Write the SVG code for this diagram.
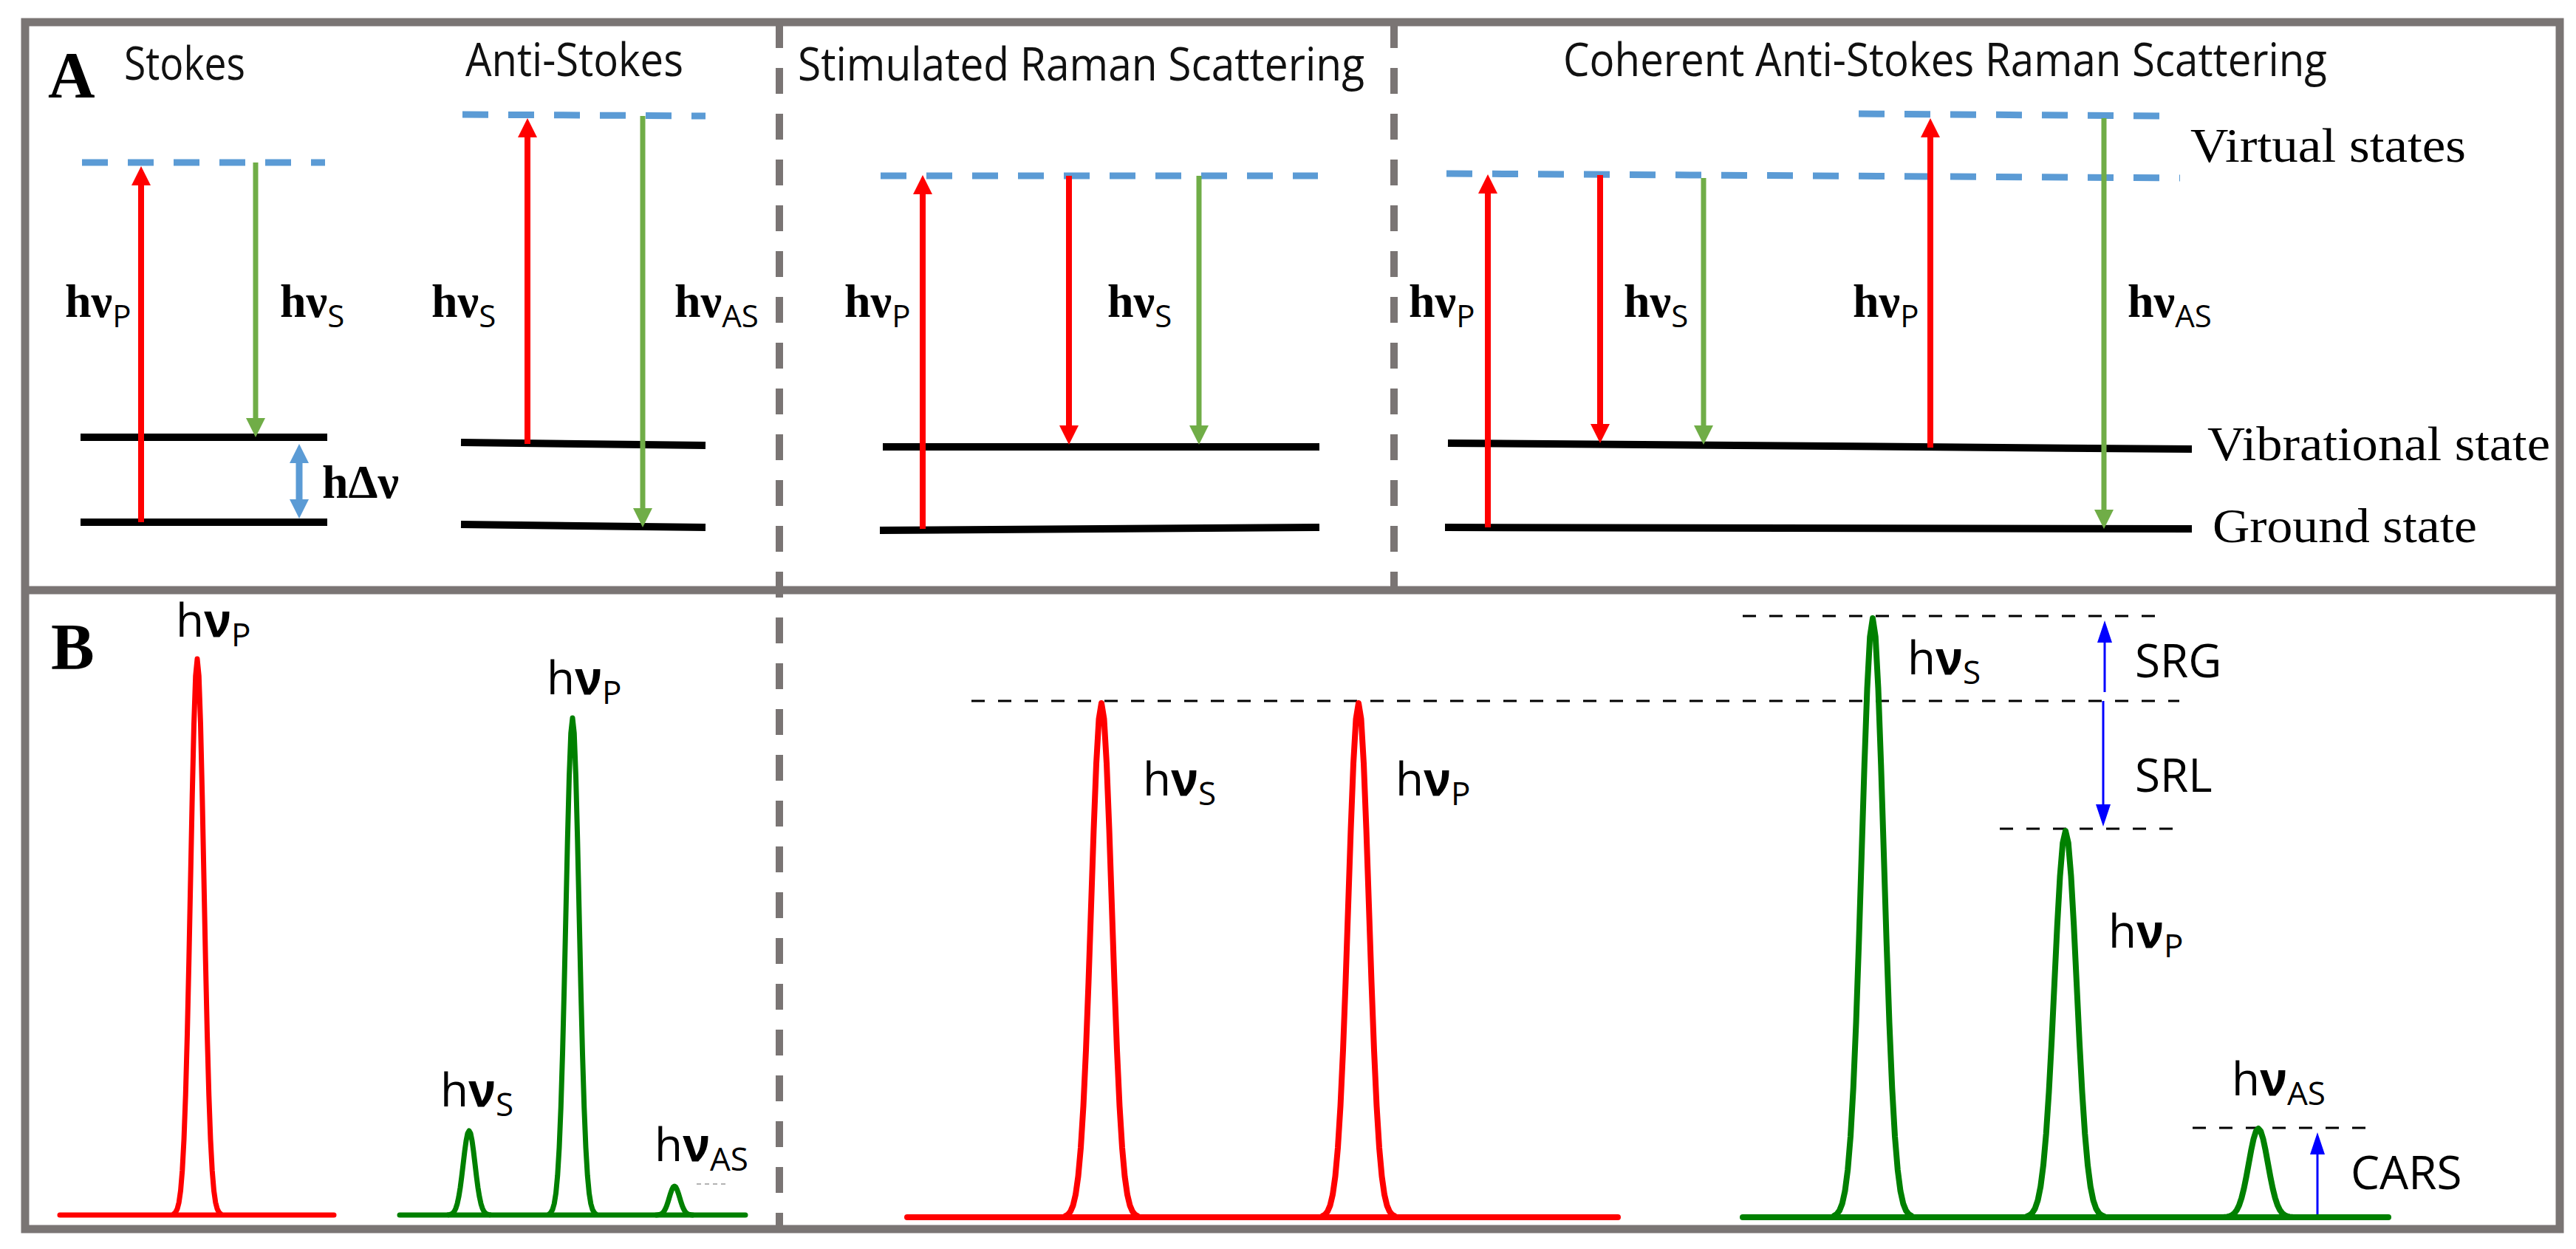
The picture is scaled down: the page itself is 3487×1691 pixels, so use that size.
<svg xmlns="http://www.w3.org/2000/svg" xmlns:xlink="http://www.w3.org/1999/xlink" width="3487" height="1691" viewBox="0 0 3487 1691">
<style>
.frame{fill:none;stroke:#7a7574;stroke-width:11}
.div{stroke:#7a7574;stroke-width:10;stroke-dasharray:35 27;fill:none}
.title{font-family:"Open Sans","Liberation Sans",sans-serif;font-size:62px;fill:#111}
.lab{font-family:"Liberation Serif",serif;font-size:66px;fill:#000}
.big{font-family:"Liberation Serif",serif;font-size:88px;font-weight:bold;fill:#000}
.hv{font-family:"Liberation Serif",serif;font-size:64px;font-weight:bold;fill:#000}
.sub{font-family:"Open Sans","Liberation Sans",sans-serif;font-size:42px;font-weight:normal}
.hvb{font-family:"Open Sans","Liberation Sans",sans-serif;font-size:62px;fill:#000}
.subb{font-size:44px}
.sig{font-family:"Open Sans","Liberation Sans",sans-serif;font-size:62px;fill:#000}
.virt{stroke:#5b9bd5;stroke-width:9;stroke-dasharray:35 27;fill:none}
.lvl{stroke:#000;stroke-width:10;fill:none}
.ar{stroke:#ff0000;stroke-width:8;fill:none}
.ag{stroke:#70ad47;stroke-width:7;fill:none}
.ab{stroke:#5b9bd5;stroke-width:9;fill:none}
.adb{stroke:#0000ff;stroke-width:3;fill:none}
.ref{stroke:#000;stroke-width:3;stroke-dasharray:18 18;fill:none}
.spR{stroke:#ff0000;fill:none;stroke-linecap:round;stroke-linejoin:round}
.spG{stroke:#008000;fill:none;stroke-linecap:round;stroke-linejoin:round}
</style>
<defs>
<marker id="mr" viewBox="0 0 26 26" markerWidth="26" markerHeight="26" refX="2" refY="13" orient="auto" markerUnits="userSpaceOnUse"><path d="M0,0 L26,13 L0,26 z" fill="#ff0000"/></marker>
<marker id="mg" viewBox="0 0 26 26" markerWidth="26" markerHeight="26" refX="2" refY="13" orient="auto" markerUnits="userSpaceOnUse"><path d="M0,0 L26,13 L0,26 z" fill="#70ad47"/></marker>
<marker id="mb" viewBox="0 0 26 26" markerWidth="26" markerHeight="26" refX="2" refY="13" orient="auto-start-reverse" markerUnits="userSpaceOnUse"><path d="M0,0 L26,13 L0,26 z" fill="#5b9bd5"/></marker>
<marker id="md" viewBox="0 0 30 20" markerWidth="30" markerHeight="20" refX="2" refY="10" orient="auto" markerUnits="userSpaceOnUse"><path d="M0,0 L30,10 L0,20 z" fill="#0000ff"/></marker>
<path id="gauss" vector-effect="non-scaling-stroke" d="M-3.5,-0.0022 L-3.25,-0.0051 L-3,-0.0111 L-2.75,-0.0228 L-2.5,-0.0439 L-2.25,-0.0796 L-2,-0.1353 L-1.75,-0.2163 L-1.5,-0.3247 L-1.25,-0.4578 L-1,-0.6065 L-0.75,-0.7548 L-0.5,-0.8825 L-0.25,-0.9692 L0,-1 L0.25,-0.9692 L0.5,-0.8825 L0.75,-0.7548 L1,-0.6065 L1.25,-0.4578 L1.5,-0.3247 L1.75,-0.2163 L2,-0.1353 L2.25,-0.0796 L2.5,-0.0439 L2.75,-0.0228 L3,-0.0111 L3.25,-0.0051 L3.5,-0.0022"/>
</defs>
<rect width="3487" height="1691" fill="#fff"/>

<g id="frame">
<rect class="frame" x="34" y="30" width="3431" height="1634"/>
<line class="frame" x1="34" y1="799" x2="3465" y2="799"/>
<line class="div" x1="1055" y1="30" x2="1055" y2="1664"/>
<line class="div" x1="1887" y1="30" x2="1887" y2="799"/>
<text class="big" x="65" y="131">A</text>
<text class="big" x="69" y="905">B</text>
</g>

<g id="stokes">
<text class="title" x="168" y="108" textLength="164" lengthAdjust="spacingAndGlyphs">Stokes</text>
<line class="virt" x1="111" y1="220" x2="440" y2="220"/>
<line class="lvl" x1="109" y1="592" x2="443" y2="592"/>
<line class="lvl" x1="109" y1="707" x2="443" y2="707"/>
<text class="hv" x="88" y="429">hν<tspan class="sub" dy="14">P</tspan></text>
<text class="hv" x="379" y="429">hν<tspan class="sub" dy="14">S</tspan></text>
<text class="hv" x="436" y="674" textLength="104" lengthAdjust="spacingAndGlyphs">hΔν</text>
</g>

<g id="anti-stokes">
<text class="title" x="630" y="103" textLength="295" lengthAdjust="spacingAndGlyphs">Anti-Stokes</text>
<line class="virt" x1="626" y1="155" x2="955" y2="157"/>
<line class="lvl" x1="624" y1="599" x2="955" y2="603"/>
<line class="lvl" x1="624" y1="710" x2="955" y2="714"/>
<text class="hv" x="584" y="429">hν<tspan class="sub" dy="14">S</tspan></text>
<text class="hv" x="913" y="429">hν<tspan class="sub" dy="14">AS</tspan></text>
</g>

<g id="srs">
<text class="title" x="1080" y="109" textLength="767" lengthAdjust="spacingAndGlyphs">Stimulated Raman Scattering</text>
<line class="virt" x1="1192" y1="238" x2="1784" y2="238"/>
<line class="lvl" x1="1195" y1="605" x2="1786" y2="605"/>
<line class="lvl" x1="1191" y1="718" x2="1786" y2="714"/>
<text class="hv" x="1143" y="429">hν<tspan class="sub" dy="14">P</tspan></text>
<text class="hv" x="1499" y="429">hν<tspan class="sub" dy="14">S</tspan></text>
</g>

<g id="cars">
<text class="title" x="2116" y="103" textLength="1034" lengthAdjust="spacingAndGlyphs">Coherent Anti-Stokes Raman Scattering</text>
<line class="virt" x1="1958" y1="235" x2="2951" y2="241"/>
<line class="virt" x1="2516" y1="154" x2="2923" y2="157"/>
<line class="lvl" x1="1960" y1="600" x2="2967" y2="608"/>
<line class="lvl" x1="1956" y1="714" x2="2967" y2="716"/>
<text class="hv" x="1907" y="429">hν<tspan class="sub" dy="14">P</tspan></text>
<text class="hv" x="2198" y="429">hν<tspan class="sub" dy="14">S</tspan></text>
<text class="hv" x="2508" y="429">hν<tspan class="sub" dy="14">P</tspan></text>
<text class="hv" x="2880" y="429">hν<tspan class="sub" dy="14">AS</tspan></text>
<text class="lab" x="2965" y="219" textLength="373" lengthAdjust="spacingAndGlyphs">Virtual states</text>
<text class="lab" x="2988" y="623" textLength="464" lengthAdjust="spacingAndGlyphs">Vibrational state</text>
<text class="lab" x="2995" y="734" textLength="358" lengthAdjust="spacingAndGlyphs">Ground state</text>
</g>

<g id="connectors">
<line class="ar" x1="191" y1="707" x2="191" y2="249" marker-end="url(#mr)"/>
<line class="ag" x1="346" y1="220" x2="346" y2="568" marker-end="url(#mg)"/>
<line class="ab" x1="405" y1="625" x2="405" y2="678" marker-start="url(#mb)" marker-end="url(#mb)"/>
<line class="ar" x1="714" y1="601" x2="714" y2="184" marker-end="url(#mr)"/>
<line class="ag" x1="870" y1="157" x2="870" y2="690" marker-end="url(#mg)"/>
<line class="ar" x1="1249" y1="716" x2="1249" y2="261" marker-end="url(#mr)"/>
<line class="ar" x1="1447" y1="238" x2="1447" y2="578" marker-end="url(#mr)"/>
<line class="ag" x1="1623" y1="238" x2="1623" y2="578" marker-end="url(#mg)"/>
<line class="ar" x1="2014" y1="714" x2="2014" y2="260" marker-end="url(#mr)"/>
<line class="ar" x1="2166" y1="237" x2="2166" y2="576" marker-end="url(#mr)"/>
<line class="ag" x1="2306" y1="241" x2="2306" y2="578" marker-end="url(#mg)"/>
<line class="ar" x1="2613" y1="606" x2="2613" y2="184" marker-end="url(#mr)"/>
<line class="ag" x1="2848" y1="160" x2="2848" y2="692" marker-end="url(#mg)"/>
<line class="adb" x1="2849" y1="937" x2="2849" y2="868" marker-end="url(#md)"/>
<line class="adb" x1="2847" y1="949" x2="2847" y2="1091" marker-end="url(#md)"/>
<line class="adb" x1="3137" y1="1644" x2="3137" y2="1561" marker-end="url(#md)"/>
</g>

<g id="spectrum-stokes">
<line class="spR" stroke-width="7" x1="81" y1="1645" x2="452" y2="1645"/>
<use xlink:href="#gauss" class="spR" stroke-width="7" transform="translate(267,1645) scale(9,753)"/>
<text class="hvb" x="238" y="862">h<tspan font-weight="bold">ν</tspan><tspan class="subb" dy="13">P</tspan></text>
</g>

<g id="spectrum-anti-stokes">
<line class="spG" stroke-width="7" x1="541" y1="1645" x2="1009" y2="1645"/>
<use xlink:href="#gauss" class="spG" stroke-width="7" transform="translate(635,1645) scale(8,114)"/>
<use xlink:href="#gauss" class="spG" stroke-width="7" transform="translate(775,1645) scale(9,673)"/>
<use xlink:href="#gauss" class="spG" stroke-width="7" transform="translate(913,1645) scale(7,39)"/>
<text class="hvb" x="596" y="1498">h<tspan font-weight="bold">ν</tspan><tspan class="subb" dy="13">S</tspan></text>
<text class="hvb" x="740" y="940">h<tspan font-weight="bold">ν</tspan><tspan class="subb" dy="13">P</tspan></text>
<text class="hvb" x="886" y="1572">h<tspan font-weight="bold">ν</tspan><tspan class="subb" dy="13">AS</tspan></text>
<line x1="943" y1="1603" x2="982" y2="1603" stroke="#999" stroke-width="1.5" stroke-dasharray="6 5"/>
</g>

<g id="spectrum-srs">
<line class="ref" x1="1315" y1="949" x2="2950" y2="949"/>
<line class="spR" stroke-width="8" x1="1228" y1="1648" x2="2190" y2="1648"/>
<use xlink:href="#gauss" class="spR" stroke-width="8" transform="translate(1491,1648) scale(14,696)"/>
<use xlink:href="#gauss" class="spR" stroke-width="8" transform="translate(1839,1648) scale(14,696)"/>
<text class="hvb" x="1547" y="1077">h<tspan font-weight="bold">ν</tspan><tspan class="subb" dy="13">S</tspan></text>
<text class="hvb" x="1889" y="1077">h<tspan font-weight="bold">ν</tspan><tspan class="subb" dy="13">P</tspan></text>
</g>

<g id="spectrum-cars">
<line class="ref" x1="2359" y1="834" x2="2928" y2="834"/>
<line class="ref" x1="2707" y1="1122" x2="2947" y2="1122"/>
<line class="ref" x1="2968" y1="1527" x2="3208" y2="1527"/>
<line class="spG" stroke-width="8" x1="2359" y1="1648" x2="3233" y2="1648"/>
<use xlink:href="#gauss" class="spG" stroke-width="8" transform="translate(2535,1648) scale(15,811)"/>
<use xlink:href="#gauss" class="spG" stroke-width="8" transform="translate(2796,1648) scale(15,523)"/>
<use xlink:href="#gauss" class="spG" stroke-width="8" transform="translate(3057,1648) scale(13,120)"/>
<text class="hvb" x="2582" y="913">h<tspan font-weight="bold">ν</tspan><tspan class="subb" dy="13">S</tspan></text>
<text class="hvb" x="2854" y="1283">h<tspan font-weight="bold">ν</tspan><tspan class="subb" dy="13">P</tspan></text>
<text class="hvb" x="3021" y="1483">h<tspan font-weight="bold">ν</tspan><tspan class="subb" dy="13">AS</tspan></text>
<text class="sig" x="2890" y="917">SRG</text>
<text class="sig" x="2890" y="1072">SRL</text>
<text class="sig" x="3182" y="1610">CARS</text>
</g>
</svg>
